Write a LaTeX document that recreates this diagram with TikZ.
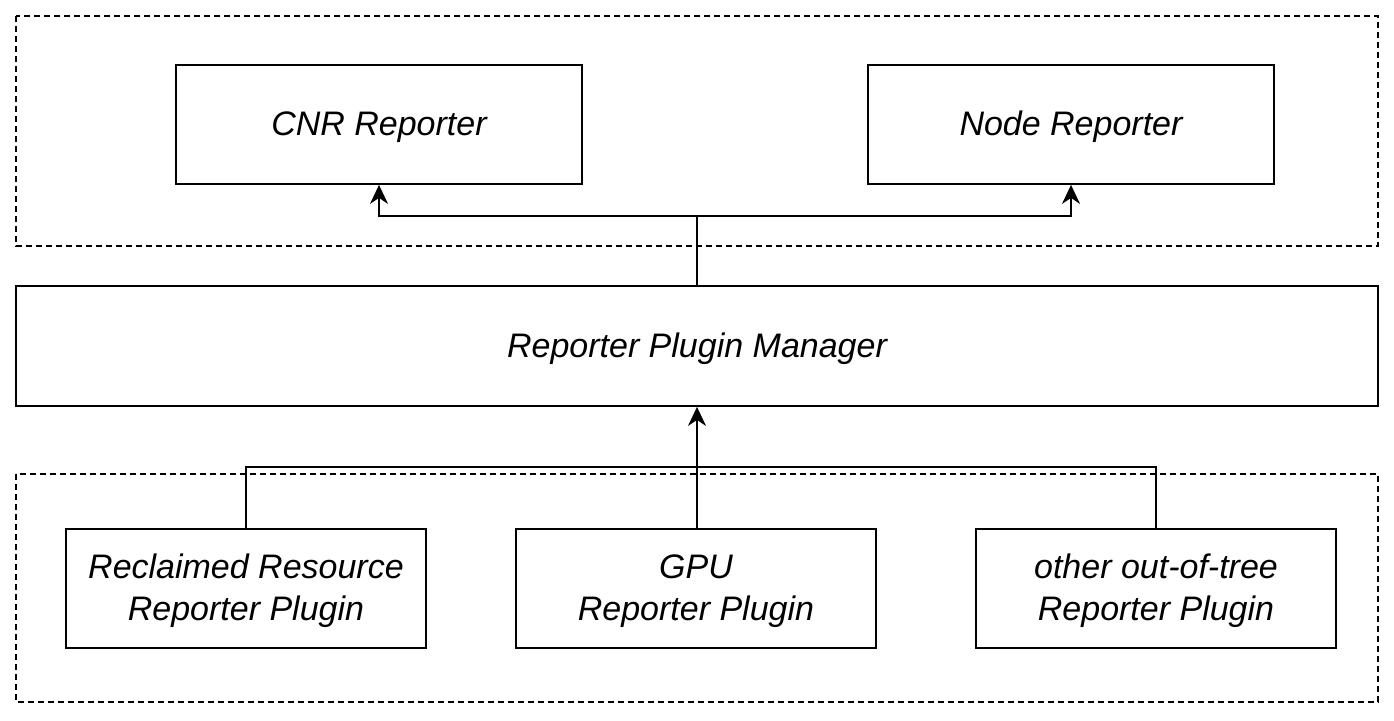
\documentclass[tikz,border=0pt]{standalone}
\usepackage{fontspec}
\setmainfont{Liberation Sans}
\usetikzlibrary{arrows.meta}
\newcommand\lowtext[1]{\raisebox{-3pt}[\height][\depth]{\begin{tabular}{@{}c@{}}#1\end{tabular}}}
\begin{document}
\begin{tikzpicture}[x=1pt,y=-1pt,
  box/.style={draw=black,line width=1.8pt,fill=white,inner sep=0pt,align=center,font=\fontsize{34}{42}\selectfont\itshape},
  group/.style={draw=black,line width=1.6pt,dash pattern=on 6pt off 4pt},
  conn/.style={line width=1.6pt},
  arr/.style={conn,-{Stealth[length=19pt,width=18pt,inset=6pt]}}]
\useasboundingbox (0,0) rectangle (1394,720);
\fill[white] (0,0) rectangle (1394,720);
\draw[group] (16,16) rectangle (1378,246);
\draw[group] (16,474) rectangle (1378,702);
\node[box,minimum width=406pt,minimum height=119pt] (cnr) at (379,124.5) {\lowtext{CNR Reporter}};
\node[box,minimum width=406pt,minimum height=119pt] (node) at (1071,124.5) {\lowtext{Node Reporter}};
\node[box,minimum width=1362pt,minimum height=120pt] (mgr) at (697,346) {\lowtext{Reporter Plugin Manager}};
\node[box,minimum width=360pt,minimum height=119pt] (rr) at (246,588.5) {\lowtext{Reclaimed Resource\\Reporter Plugin}};
\node[box,minimum width=360pt,minimum height=119pt] (gpu) at (696,588.5) {\lowtext{GPU\\Reporter Plugin}};
\node[box,minimum width=360pt,minimum height=119pt] (oot) at (1156,588.5) {\lowtext{other out-of-tree\\Reporter Plugin}};
\coordinate (ts) at (697,216);
\coordinate (bs) at (697,467);
\draw[conn] (mgr.north -| ts) -- (ts);
\draw[arr] (ts) -| (cnr.south);
\draw[arr] (ts) -| (node.south);
\draw[conn] (rr.north) |- (bs) -| (oot.north);
\draw[arr] (gpu.north -| bs) -- (mgr.south -| bs);
\end{tikzpicture}
\end{document}
